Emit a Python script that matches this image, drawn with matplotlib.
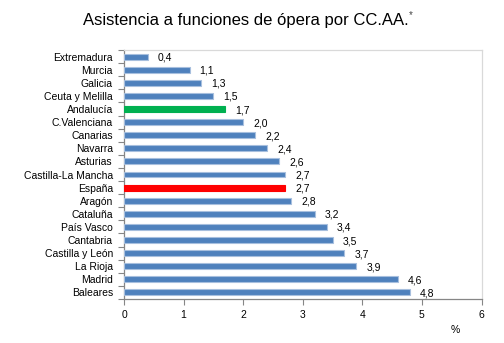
import matplotlib
matplotlib.use("Agg")
import matplotlib.pyplot as plt
import numpy as np

regions = ["Extremadura", "Murcia", "Galicia", "Ceuta y Melilla", "Andalucía",
           "C.Valenciana", "Canarias", "Navarra", "Asturias", "Castilla-La Mancha",
           "España", "Aragón", "Cataluña", "País Vasco", "Cantabria",
           "Castilla y León", "La Rioja", "Madrid", "Baleares"]
values = [0.4, 1.1, 1.3, 1.5, 1.7, 2.0, 2.2, 2.4, 2.6, 2.7,
          2.7, 2.8, 3.2, 3.4, 3.5, 3.7, 3.9, 4.6, 4.8]
xticks = [0, 1, 2, 3, 4, 5, 6]

plt.rcParams["font.family"] = ["Liberation Sans", "DejaVu Sans"]

blue, green, red = "#4F81BD", "#00B050", "#FF0000"
colors = [green if r == "Andalucía" else red if r == "España" else blue for r in regions]
edges = ["#A7BFDE" if c == blue else c for c in colors]

fig = plt.figure(figsize=(5.04, 3.43), dpi=100)
ax = fig.add_axes([124 / 504, 1 - 299 / 343, 357.5 / 504, 249 / 343])

pos = np.arange(len(regions))
ax.barh(pos, values, height=0.45, color=colors, edgecolor=edges, linewidth=0.8, zorder=3)

for p, v in zip(pos, values):
    ax.text(v + 0.17, p + 0.08, f"{v:.1f}".replace(".", ","), ha="left", va="center",
            fontsize=7.5, color="black")

ax.set_ylim(len(regions) - 0.5, -0.5)
ax.set_xlim(0, 6)
ax.set_xticks(xticks)
ax.set_xticklabels([str(t) for t in xticks], fontsize=7.5)

ax.set_yticks(pos)
ax.set_yticklabels(regions, fontsize=7.5)
ax.set_yticks(np.arange(-0.5, len(regions)), minor=True)
ax.tick_params(axis="y", which="major", length=0, pad=8)
ax.tick_params(axis="y", which="minor", length=4, color="#868686", width=0.8)
ax.tick_params(axis="x", which="major", length=4, color="#868686", width=0.8, pad=4)

for side in ("left", "bottom"):
    ax.spines[side].set_color("#868686")
    ax.spines[side].set_linewidth(0.9)
for side in ("top", "right"):
    ax.spines[side].set_color("#D9D9D9")
    ax.spines[side].set_linewidth(0.9)

fig.text(246 / 504, 1 - 20 / 343, "Asistencia a funciones de ópera por CC.AA.",
         ha="center", va="center", fontsize=12)
fig.text(409 / 504, 1 - 15 / 343, "*", ha="left", va="center", fontsize=7, color="#444444")
fig.text(455 / 504, 1 - 330 / 343, "%", ha="center", va="center", fontsize=7.5)

fig.savefig("out.png", dpi=100)
